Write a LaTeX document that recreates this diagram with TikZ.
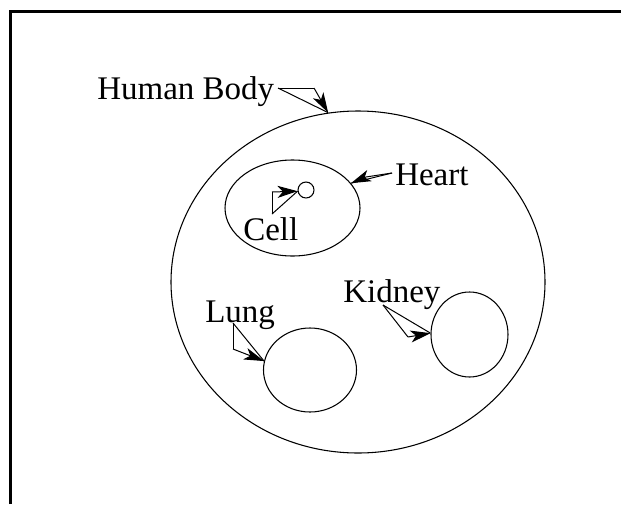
\documentclass[tikz,border=0pt]{standalone}
\usepackage{fontspec}
\setmainfont{Liberation Serif}
\usetikzlibrary{shapes.geometric,arrows.meta}
\tikzset{
  organ/.style={draw, ellipse, line width=0.8pt, inner sep=0pt},
  lbl/.style={anchor=base west, inner sep=0pt, font=\fontsize{24.75pt}{28pt}\selectfont},
  callout/.style={line width=0.75pt},
  tip/.style={line width=0.75pt, -{Stealth[length=15pt, width=9pt, inset=4pt]}},
  frameline/.style={line width=2.5pt}
}
\begin{document}
\begin{tikzpicture}[x=0.75pt, y=-0.75pt]
\useasboundingbox (0,0) rectangle (621,504);
\draw[frameline] (10.7,504) -- (10.7,11.7) -- (621,11.7);

% shapes
\node[organ, minimum width=280.5pt, minimum height=256.5pt] (body) at (358,282) {};
\node[organ, minimum width=101.25pt, minimum height=72pt] (heart) at (292.5,208) {};
\node[organ, circle, minimum size=12pt] (cell) at (306,190) {};
\node[organ, minimum width=69.75pt, minimum height=63pt] (lung) at (310,370) {};
\node[organ, minimum width=57.75pt, minimum height=63.75pt] (kidney) at (469.5,334.5) {};

% labels
\node[lbl] (tbody) at (97,99) {Human Body};
\node[lbl] (theart) at (395,185) {Heart};
\node[lbl] (tcell) at (243,240) {Cell};
\node[lbl] (tlung) at (205,322) {Lung};
\node[lbl] (tkidney) at (343,302) {Kidney};

% callout points
\coordinate (hA) at (278,88);  \coordinate (hB) at (314,88);
\coordinate (rA) at (392,173); \coordinate (rB) at (366,177);
\coordinate (cA) at (272,214); \coordinate (cB) at (272,192);
\coordinate (lA) at (233,323); \coordinate (lB) at (233,349);
\coordinate (kA) at (383,305); \coordinate (kB) at (408,337);

% callouts
\draw[callout] (hA) -- (hB); \draw[tip] (hB) -- (body.100); \draw[callout] (body.100) -- (hA);
\draw[callout] (rA) -- (rB); \draw[tip] (rB) -- (heart.23.5); \draw[callout] (heart.23.5) -- (rA);
\draw[callout] (cA) -- (cB); \draw[tip] (cB) -- (cell.188); \draw[callout] (cell.188) -- (cA);
\draw[callout] (lA) -- (lB); \draw[tip] (lB) -- (lung.169); \draw[callout] (lung.169) -- (lA);
\draw[callout] (kA) -- (kB); \draw[tip] (kB) -- (kidney.178); \draw[callout] (kidney.178) -- (kA);
\end{tikzpicture}
\end{document}
